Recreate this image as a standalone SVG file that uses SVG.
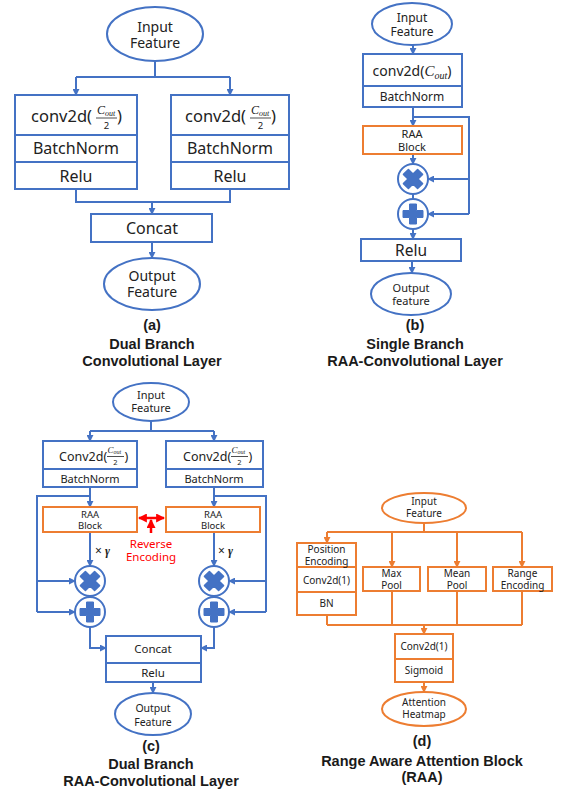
<svg xmlns="http://www.w3.org/2000/svg" width="564" height="791" viewBox="0 0 564 791">
<style>
.b{fill:#fff;stroke:#4472C4;stroke-width:2}
.o{fill:#fff;stroke:#ED7D31;stroke-width:2}
.dl{stroke:#4472C4;stroke-width:2}
.dlo{stroke:#ED7D31;stroke-width:2}
.cb{fill:none;stroke:#4472C4;stroke-width:2}
.co{fill:none;stroke:#ED7D31;stroke-width:2}
.cr{fill:none;stroke:#FF0000;stroke-width:2.5}
.t{font-family:"Noto Sans","Open Sans",sans-serif;fill:#222;text-anchor:middle}
.s{text-anchor:start}
.m{font-family:"Liberation Serif","DejaVu Serif",serif;font-style:italic;fill:#222}
.h{font-family:"Liberation Sans",Arial,sans-serif;font-weight:bold;fill:#1a1a1a;text-anchor:middle;font-size:14.5px}
.red{fill:#FF0000}
.fl{stroke:#222;stroke-width:0.8}
</style>
<defs>
<marker id="ab" viewBox="0 0 8 8" refX="7" refY="4" markerWidth="7" markerHeight="7" markerUnits="userSpaceOnUse" orient="auto"><path d="M0,0 L8,4 L0,8 z" fill="#4472C4"/></marker>
<marker id="ao" viewBox="0 0 8 8" refX="7" refY="4" markerWidth="7" markerHeight="7" markerUnits="userSpaceOnUse" orient="auto"><path d="M0,0 L8,4 L0,8 z" fill="#ED7D31"/></marker>
<marker id="ar" viewBox="0 0 8 8" refX="7" refY="4" markerWidth="9" markerHeight="9" markerUnits="userSpaceOnUse" orient="auto-start-reverse"><path d="M0,0 L8,4 L0,8 z" fill="#FF0000"/></marker>
<g id="mul"><circle r="15" class="b"/><path d="M-3.5,-10 H3.5 V-3.5 H10 V3.5 H3.5 V10 H-3.5 V3.5 H-10 V-3.5 H-3.5 z" fill="#4472C4" stroke="#4472C4" stroke-width="1.5" stroke-linejoin="round" transform="rotate(45)"/></g>
<g id="add"><circle r="15" class="b"/><path d="M-3.5,-10 H3.5 V-3.5 H10 V3.5 H3.5 V10 H-3.5 V3.5 H-10 V-3.5 H-3.5 z" fill="#4472C4" stroke="#4472C4" stroke-width="1" stroke-linejoin="round"/></g>
</defs>

<!-- connectors -->
<g id="connectors">
<!-- (a) -->
<path class="cb" d="M155,61 V77 M76,77 H230"/>
<path class="cb" d="M76,77 V95" marker-end="url(#ab)"/>
<path class="cb" d="M230,77 V95" marker-end="url(#ab)"/>
<path class="cb" d="M76,189 V202 H230 V189"/>
<path class="cb" d="M152,202 V214" marker-end="url(#ab)"/>
<path class="cb" d="M152,242 V258" marker-end="url(#ab)"/>
<!-- (b) -->
<path class="cb" d="M413,45 V54" marker-end="url(#ab)"/>
<path class="cb" d="M413,107 V126" marker-end="url(#ab)"/>
<path class="cb" d="M413,117 H469 V214"/>
<path class="cb" d="M469,179 H428" marker-end="url(#ab)"/>
<path class="cb" d="M469,214 H428" marker-end="url(#ab)"/>
<path class="cb" d="M413,154 V164" marker-end="url(#ab)"/>
<path class="cb" d="M413,194 V199"/>
<path class="cb" d="M413,229 V239" marker-end="url(#ab)"/>
<path class="cb" d="M412,261 V273" marker-end="url(#ab)"/>
<!-- (c) -->
<path class="cb" d="M151,421 V431 M90,431 H214"/>
<path class="cb" d="M90,431 V441" marker-end="url(#ab)"/>
<path class="cb" d="M214,431 V441" marker-end="url(#ab)"/>
<path class="cb" d="M90,487 V507" marker-end="url(#ab)"/>
<path class="cb" d="M90,496 H37 V612"/>
<path class="cb" d="M37,581 H75" marker-end="url(#ab)"/>
<path class="cb" d="M37,612 H75" marker-end="url(#ab)"/>
<path class="cb" d="M90,532 V566" marker-end="url(#ab)"/>
<path class="cb" d="M90,596 V597"/>
<path class="cb" d="M90,627 V648 H106" marker-end="url(#ab)"/>
<path class="cb" d="M214,487 V507" marker-end="url(#ab)"/>
<path class="cb" d="M214,496 H266 V612"/>
<path class="cb" d="M266,581 H229" marker-end="url(#ab)"/>
<path class="cb" d="M266,612 H229" marker-end="url(#ab)"/>
<path class="cb" d="M214,532 V566" marker-end="url(#ab)"/>
<path class="cb" d="M214,596 V597"/>
<path class="cb" d="M214,627 V648 H201" marker-end="url(#ab)"/>
<path class="cb" d="M153,682 V693" marker-end="url(#ab)"/>
<path class="cr" d="M139,518 H164" marker-start="url(#ar)" marker-end="url(#ar)"/>
<path class="cr" d="M151,533 V520" marker-end="url(#ar)"/>
<!-- (d) -->
<path class="co" d="M424,522 V532 M327,532 H522"/>
<path class="co" d="M327,532 V543" marker-end="url(#ao)"/>
<path class="co" d="M392,532 V567" marker-end="url(#ao)"/>
<path class="co" d="M457,532 V567" marker-end="url(#ao)"/>
<path class="co" d="M522,532 V567" marker-end="url(#ao)"/>
<path class="co" d="M327,615 V625 M392,591 V625 M457,591 V625 M522,591 V625 M327,625 H522"/>
<path class="co" d="M424,625 V634" marker-end="url(#ao)"/>
<path class="co" d="M424,682 V692" marker-end="url(#ao)"/>
</g>

<!-- (a) nodes -->
<g id="a_input"><ellipse cx="155" cy="34" rx="48" ry="27" class="b"/>
<text class="t" x="155" y="32" font-size="14">Input</text><text class="t" x="155" y="48" font-size="14">Feature</text></g>
<g id="a_left"><rect x="15" y="95" width="122" height="94" class="b"/>
<line x1="15" y1="135" x2="137" y2="135" class="dl"/><line x1="15" y1="162" x2="137" y2="162" class="dl"/>
<text class="t s" x="31" y="122" font-size="16.5">conv2d(</text>
<text class="m" x="97" y="114" font-size="12">C<tspan font-size="8" dy="1.5">out</tspan></text>
<line x1="96" y1="118" x2="117" y2="118" class="fl"/>
<text class="t" x="106.5" y="128.5" font-size="9.5">2</text>
<text class="t s" x="117" y="122" font-size="16.5">)</text>
<text class="t" x="76" y="154" font-size="16">BatchNorm</text>
<text class="t" x="76" y="182" font-size="16">Relu</text></g>
<g id="a_right"><rect x="171" y="95" width="118" height="94" class="b"/>
<line x1="171" y1="135" x2="289" y2="135" class="dl"/><line x1="171" y1="162" x2="289" y2="162" class="dl"/>
<text class="t s" x="185" y="122" font-size="16.5">conv2d(</text>
<text class="m" x="251" y="114" font-size="12">C<tspan font-size="8" dy="1.5">out</tspan></text>
<line x1="250" y1="118" x2="271" y2="118" class="fl"/>
<text class="t" x="260.5" y="128.5" font-size="9.5">2</text>
<text class="t s" x="271" y="122" font-size="16.5">)</text>
<text class="t" x="230" y="154" font-size="16">BatchNorm</text>
<text class="t" x="230" y="182" font-size="16">Relu</text></g>
<g id="a_concat"><rect x="91" y="214" width="121" height="28" class="b"/>
<text class="t" x="152" y="234" font-size="16">Concat</text></g>
<g id="a_output"><ellipse cx="152" cy="284" rx="48" ry="26" class="b"/>
<text class="t" x="152" y="281" font-size="14">Output</text><text class="t" x="152" y="297" font-size="14">Feature</text></g>
<g id="a_caption"><text class="h" x="152" y="330">(a)</text><text class="h" x="152" y="349">Dual Branch</text><text class="h" x="152" y="366">Convolutional Layer</text></g>

<!-- (b) nodes -->
<g id="b_input"><ellipse cx="412" cy="24" rx="40" ry="21" class="b"/>
<text class="t" x="412" y="22" font-size="12">Input</text><text class="t" x="412" y="36" font-size="12">Feature</text></g>
<g id="b_conv"><rect x="363" y="54" width="99" height="53" class="b"/>
<line x1="363" y1="86" x2="462" y2="86" class="dl"/>
<text class="t" x="412" y="76" font-size="14">conv2d(<tspan class="m" font-size="15">C</tspan><tspan class="m" font-size="10" dy="2.5">out</tspan><tspan dy="-2.5">)</tspan></text>
<text class="t" x="412" y="101" font-size="12">BatchNorm</text></g>
<g id="b_raa"><rect x="363" y="126" width="99" height="28" class="o"/>
<text class="t" x="412" y="137.5" font-size="11">RAA</text><text class="t" x="412" y="150.5" font-size="11">Block</text></g>
<g id="b_mul"><use href="#mul" x="413" y="179"/></g>
<g id="b_add"><use href="#add" x="413" y="214"/></g>
<g id="b_relu"><rect x="361" y="239" width="100" height="22" class="b"/>
<text class="t" x="411" y="256" font-size="15.5">Relu</text></g>
<g id="b_output"><ellipse cx="411" cy="294" rx="40" ry="21" class="b"/>
<text class="t" x="411" y="292" font-size="11">Output</text><text class="t" x="411" y="305" font-size="11">feature</text></g>
<g id="b_caption"><text class="h" x="415" y="330">(b)</text><text class="h" x="415" y="349">Single Branch</text><text class="h" x="415" y="366">RAA-Convolutional Layer</text></g>

<!-- (c) nodes -->
<g id="c_input"><ellipse cx="151" cy="402" rx="38" ry="19" class="b"/>
<text class="t" x="151" y="399" font-size="11">Input</text><text class="t" x="151" y="412" font-size="11">Feature</text></g>
<g id="c_left"><rect x="43" y="441" width="94" height="46" class="b"/>
<line x1="43" y1="469" x2="137" y2="469" class="dl"/>
<text class="t s" x="59" y="461" font-size="12.5">Conv2d(</text>
<text class="m" x="107.5" y="453" font-size="9">C<tspan font-size="6" dy="1">out</tspan></text>
<line x1="107" y1="456.5" x2="124" y2="456.5" class="fl"/>
<text class="t" x="115.5" y="465" font-size="7.5">2</text>
<text class="t s" x="124.5" y="461" font-size="12.5">)</text>
<text class="t" x="90" y="483" font-size="11">BatchNorm</text></g>
<g id="c_right"><rect x="166" y="441" width="97" height="46" class="b"/>
<line x1="166" y1="469" x2="263" y2="469" class="dl"/>
<text class="t s" x="183" y="461" font-size="12.5">Conv2d(</text>
<text class="m" x="231.5" y="453" font-size="9">C<tspan font-size="6" dy="1">out</tspan></text>
<line x1="231" y1="456.5" x2="248" y2="456.5" class="fl"/>
<text class="t" x="239.5" y="465" font-size="7.5">2</text>
<text class="t s" x="248.5" y="461" font-size="12.5">)</text>
<text class="t" x="214" y="483" font-size="11">BatchNorm</text></g>
<g id="c_raa_left"><rect x="43" y="507" width="94" height="25" class="o"/>
<text class="t" x="90" y="517.5" font-size="9.5">RAA</text><text class="t" x="90" y="528.5" font-size="9.5">Block</text></g>
<g id="c_raa_right"><rect x="166" y="507" width="94" height="25" class="o"/>
<text class="t" x="213" y="517.5" font-size="9.5">RAA</text><text class="t" x="213" y="528.5" font-size="9.5">Block</text></g>
<g id="c_reverse"><text class="t red" x="151" y="548" font-size="11.5">Reverse</text><text class="t red" x="151" y="561" font-size="11.5">Encoding</text></g>
<g id="c_gamma"><text class="t s" x="95" y="555" font-size="12">× <tspan class="m" font-weight="bold">γ</tspan></text>
<text class="t s" x="218" y="555" font-size="12">× <tspan class="m" font-weight="bold">γ</tspan></text></g>
<g id="c_mul_left"><use href="#mul" x="90" y="581"/></g>
<g id="c_add_left"><use href="#add" x="90" y="612"/></g>
<g id="c_mul_right"><use href="#mul" x="214" y="581"/></g>
<g id="c_add_right"><use href="#add" x="214" y="612"/></g>
<g id="c_concat"><rect x="106" y="636" width="95" height="46" class="b"/>
<line x1="106" y1="663" x2="201" y2="663" class="dl"/>
<text class="t" x="153" y="653" font-size="11.5">Concat</text><text class="t" x="153" y="677" font-size="11.5">Relu</text></g>
<g id="c_output"><ellipse cx="153" cy="714" rx="38" ry="21" class="b"/>
<text class="t" x="153" y="712" font-size="10.5">Output</text><text class="t" x="153" y="726" font-size="10.5">Feature</text></g>
<g id="c_caption"><text class="h" x="151" y="751">(c)</text><text class="h" x="151" y="769">Dual Branch</text><text class="h" x="151" y="786">RAA-Convolutional Layer</text></g>

<!-- (d) nodes -->
<g id="d_input"><ellipse cx="424" cy="508" rx="42" ry="15" class="o"/>
<text class="t" x="424" y="505" font-size="10">Input</text><text class="t" x="424" y="517" font-size="10">Feature</text></g>
<g id="d_pos"><rect x="297" y="543" width="59" height="72" class="o"/>
<line x1="297" y1="567" x2="356" y2="567" class="dlo"/><line x1="297" y1="592" x2="356" y2="592" class="dlo"/>
<text class="t" x="326.5" y="553" font-size="10">Position</text><text class="t" x="326.5" y="565" font-size="10">Encoding</text>
<text class="t" x="326.5" y="584" font-size="10">Conv2d(1)</text><text class="t" x="326.5" y="607" font-size="10">BN</text></g>
<g id="d_max"><rect x="363" y="567" width="57" height="24" class="o"/>
<text class="t" x="391.5" y="577" font-size="10">Max</text><text class="t" x="391.5" y="589" font-size="10">Pool</text></g>
<g id="d_mean"><rect x="428" y="567" width="58" height="24" class="o"/>
<text class="t" x="457" y="577" font-size="10">Mean</text><text class="t" x="457" y="589" font-size="10">Pool</text></g>
<g id="d_range"><rect x="493" y="567" width="59" height="24" class="o"/>
<text class="t" x="522.5" y="577" font-size="10">Range</text><text class="t" x="522.5" y="589" font-size="10">Encoding</text></g>
<g id="d_conv"><rect x="395" y="634" width="58" height="48" class="o"/>
<line x1="395" y1="659" x2="453" y2="659" class="dlo"/>
<text class="t" x="424" y="650" font-size="10">Conv2d(1)</text><text class="t" x="424" y="674" font-size="10">Sigmoid</text></g>
<g id="d_output"><ellipse cx="424" cy="709" rx="42" ry="17" class="o"/>
<text class="t" x="424" y="706" font-size="10">Attention</text><text class="t" x="424" y="718" font-size="10">Heatmap</text></g>
<g id="d_caption"><text class="h" x="422" y="746">(d)</text><text class="h" x="422" y="766">Range Aware Attention Block</text><text class="h" x="422" y="782">(RAA)</text></g>
</svg>
